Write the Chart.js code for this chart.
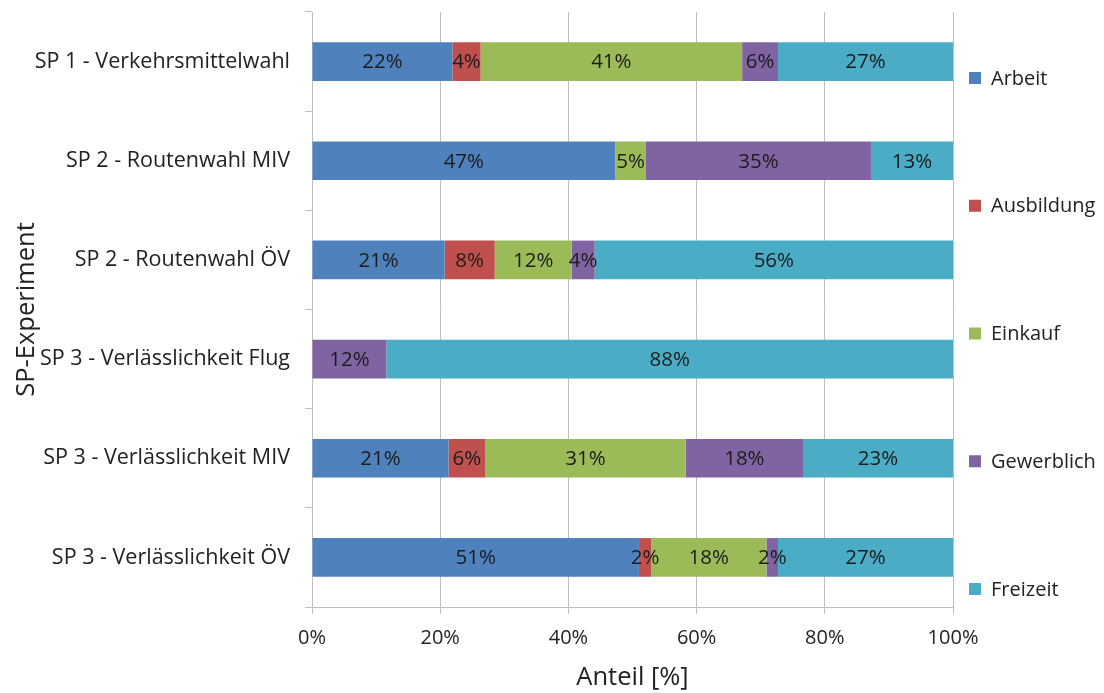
<!DOCTYPE html>
<html>
<head>
<meta charset="utf-8">
<script src="https://cdn.jsdelivr.net/npm/chart.js@4/dist/chart.umd.min.js"></script>
<style>
html,body{margin:0;padding:0;background:#fff;}
#wrap{width:1104px;height:693px;position:relative;}
</style>
</head>
<body>
<div id="wrap"><canvas id="c"></canvas></div>
<script>
const categories = ['SP 1 - Verkehrsmittelwahl','SP 2 - Routenwahl MIV','SP 2 - Routenwahl ÖV','SP 3 - Verlässlichkeit Flug','SP 3 - Verlässlichkeit MIV','SP 3 - Verlässlichkeit ÖV'];
const seriesNames = ['Arbeit','Ausbildung','Einkauf','Gewerblich','Freizeit'];
const arbeit     = [21.9, 47.3, 20.7, 0,    21.3, 51.0];
const ausbildung = [4.4,  0,    7.8,  0,    5.7,  1.9];
const einkauf    = [40.8, 4.8,  12.0, 0,    31.3, 18.0];
const gewerblich = [5.6,  35.1, 3.6,  11.6, 18.3, 1.8];
const freizeit   = [27.3, 12.8, 55.9, 88.4, 23.4, 27.3];
const xTicks = [0, 20, 40, 60, 80, 100];

const colors = ['#4F81BD','#C0504D','#9BBB59','#8064A2','#4BACC6'];
const FONT = '"Open Sans"';
const TEXT = '#222222';

const seriesData = [arbeit, ausbildung, einkauf, gewerblich, freizeit];

const labelPlugin = {
  id: 'barLabels',
  afterDatasetsDraw(chart) {
    const ctx = chart.ctx;
    ctx.save();
    ctx.font = '20.5px ' + FONT;
    ctx.fillStyle = '#1C1C1C';
    ctx.textAlign = 'center';
    ctx.textBaseline = 'middle';
    chart.data.datasets.forEach((ds, i) => {
      const meta = chart.getDatasetMeta(i);
      meta.data.forEach((el, j) => {
        const v = ds.data[j];
        if (!v) return;
        const p = el.getProps(['x','y','base'], true);
        ctx.fillText(Math.round(v) + '%', (p.x + p.base) / 2, p.y + 1);
      });
    });
    ctx.restore();
  }
};

const legendPlugin = {
  id: 'sideLegend',
  afterDraw(chart) {
    const ctx = chart.ctx;
    const a = chart.chartArea;
    ctx.save();
    ctx.font = '20px ' + FONT;
    ctx.textBaseline = 'middle';
    ctx.textAlign = 'left';
    chart.data.datasets.forEach((ds, i) => {
      const y = a.top + 66 + i * 127.75;
      ctx.fillStyle = ds.backgroundColor;
      ctx.fillRect(a.right + 16, y - 6, 12, 12);
      ctx.fillStyle = TEXT;
      ctx.fillText(ds.label, a.right + 38, y + 1);
    });
    ctx.restore();
  }
};

new Chart(document.getElementById('c'), {
  type: 'bar',
  data: {
    labels: categories,
    datasets: seriesNames.map((n, i) => ({
      label: n,
      data: seriesData[i],
      backgroundColor: colors[i],
      borderWidth: 0,
      categoryPercentage: 1,
      barPercentage: 0.39
    }))
  },
  options: {
    indexAxis: 'y',
    responsive: true,
    maintainAspectRatio: false,
    animation: false,
    layout: { padding: { top: 12, right: 151, bottom: 0, left: 0 } },
    plugins: { legend: { display: false }, tooltip: { enabled: false } },
    scales: {
      x: {
        stacked: true,
        min: 0, max: 100,
        afterBuildTicks(s) { s.ticks = xTicks.map(v => ({ value: v })); },
        afterFit(s) { s.height = 86; s.paddingLeft = 0; s.paddingRight = 0; },
        grid: { color: '#BFBFBF', tickLength: 7, drawTicks: true },
        border: { color: '#BFBFBF' },
        ticks: { padding: 12, color: TEXT, font: { family: FONT, size: 20 }, callback: v => v + '%', maxRotation: 0 },
        title: { display: true, text: 'Anteil [%]', color: TEXT, font: { family: FONT, size: 25.5 }, padding: { top: 0, bottom: 0 } }
      },
      y: {
        stacked: true,
        afterFit(s) { s.width = 312; s.paddingTop = 0; s.paddingBottom = 0; },
        grid: { drawOnChartArea: false, offset: true, tickLength: 7, color: '#BFBFBF' },
        border: { color: '#BFBFBF' },
        ticks: { padding: 15, color: TEXT, font: { family: FONT, size: 21.5 } },
        title: { display: true, text: 'SP-Experiment', color: TEXT, font: { family: FONT, size: 25.5 }, padding: { top: 11, bottom: 0 } }
      }
    }
  },
  plugins: [labelPlugin, legendPlugin]
});
</script>
</body>
</html>
